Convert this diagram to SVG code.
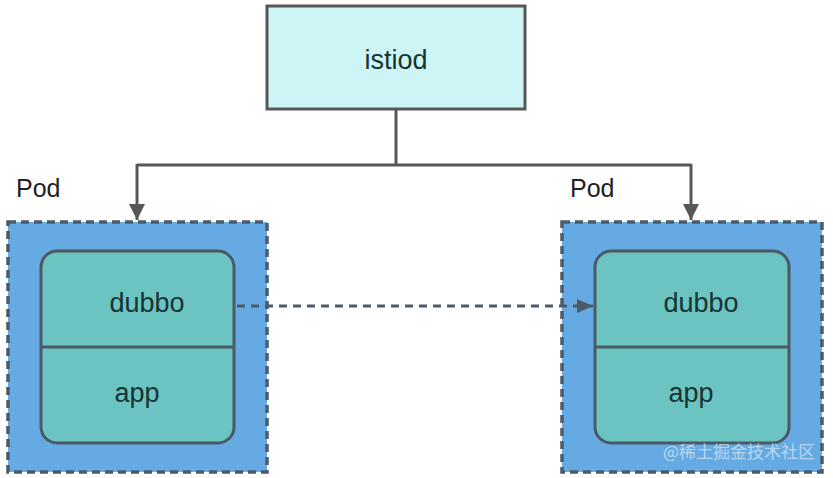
<svg xmlns="http://www.w3.org/2000/svg" width="833" height="478" viewBox="0 0 833 478">
<defs>
<style>
.lbl{font-family:"Liberation Sans",Arial,sans-serif;font-size:27px;fill:#173333;text-anchor:middle}
.podlbl{font-family:"Liberation Sans",Arial,sans-serif;font-size:25px;fill:#222}
.pod{fill:#66aae4;stroke:#4d5b68;stroke-width:3.5;stroke-dasharray:8 5}
.inner{fill:#6bc3c2;stroke:#4a5a64;stroke-width:3}
.conn{fill:none;stroke:#575757;stroke-width:3}
</style>
<marker id="ah" markerWidth="16" markerHeight="16" viewBox="0 0 16 16" refX="16" refY="8" orient="auto" markerUnits="userSpaceOnUse">
<path d="M0,0 L16,8 L0,16 Z" fill="#575757"/>
</marker>
<marker id="ah2" markerWidth="16" markerHeight="16" viewBox="0 0 16 16" refX="16" refY="8" orient="auto" markerUnits="userSpaceOnUse">
<path d="M0,1 L16,8 L0,15 Z" fill="#4d5b68"/>
</marker>
</defs>
<rect width="833" height="478" fill="#ffffff"/>
<g id="istiod">
<rect x="267" y="6" width="258" height="103" fill="#cdf5f5" stroke="#575757" stroke-width="3"/>
<text class="lbl" x="396" y="69" fill="#1f2f2f">istiod</text>
</g>
<g id="pod-left">
<text class="podlbl" x="16" y="197">Pod</text>
<rect class="pod" x="8" y="222" width="259" height="250"/>
<g id="left-container">
<rect class="inner" x="41" y="251" width="193" height="192" rx="16"/>
<line x1="41" y1="347" x2="234" y2="347" stroke="#4a5a64" stroke-width="3"/>
<text class="lbl" x="147" y="312">dubbo</text>
<text class="lbl" x="137" y="402">app</text>
</g>
</g>
<g id="pod-right">
<text class="podlbl" x="570" y="197">Pod</text>
<rect class="pod" x="562" y="222" width="260" height="250"/>
<g id="right-container">
<rect class="inner" x="595" y="251" width="194" height="192" rx="16"/>
<line x1="595" y1="347" x2="789" y2="347" stroke="#4a5a64" stroke-width="3"/>
<text class="lbl" x="701" y="312">dubbo</text>
<text class="lbl" x="691" y="402">app</text>
</g>
</g>
<g id="connectors">
<line class="conn" x1="396" y1="110" x2="396" y2="165"/>
<path class="conn" d="M137,165 L691,165"/>
<path class="conn" d="M137,164 L137,220" marker-end="url(#ah)"/>
<path class="conn" d="M691,164 L691,220" marker-end="url(#ah)"/>
<path d="M237,306 L593,306" fill="none" stroke="#4d5b68" stroke-width="3" stroke-dasharray="8 6" marker-end="url(#ah2)"/>
</g>
<text x="815" y="458" style="font-family:'Noto Sans CJK SC',sans-serif;font-size:17px;fill:#ffffff;fill-opacity:0.55;text-anchor:end">@稀土掘金技术社区</text>
</svg>
